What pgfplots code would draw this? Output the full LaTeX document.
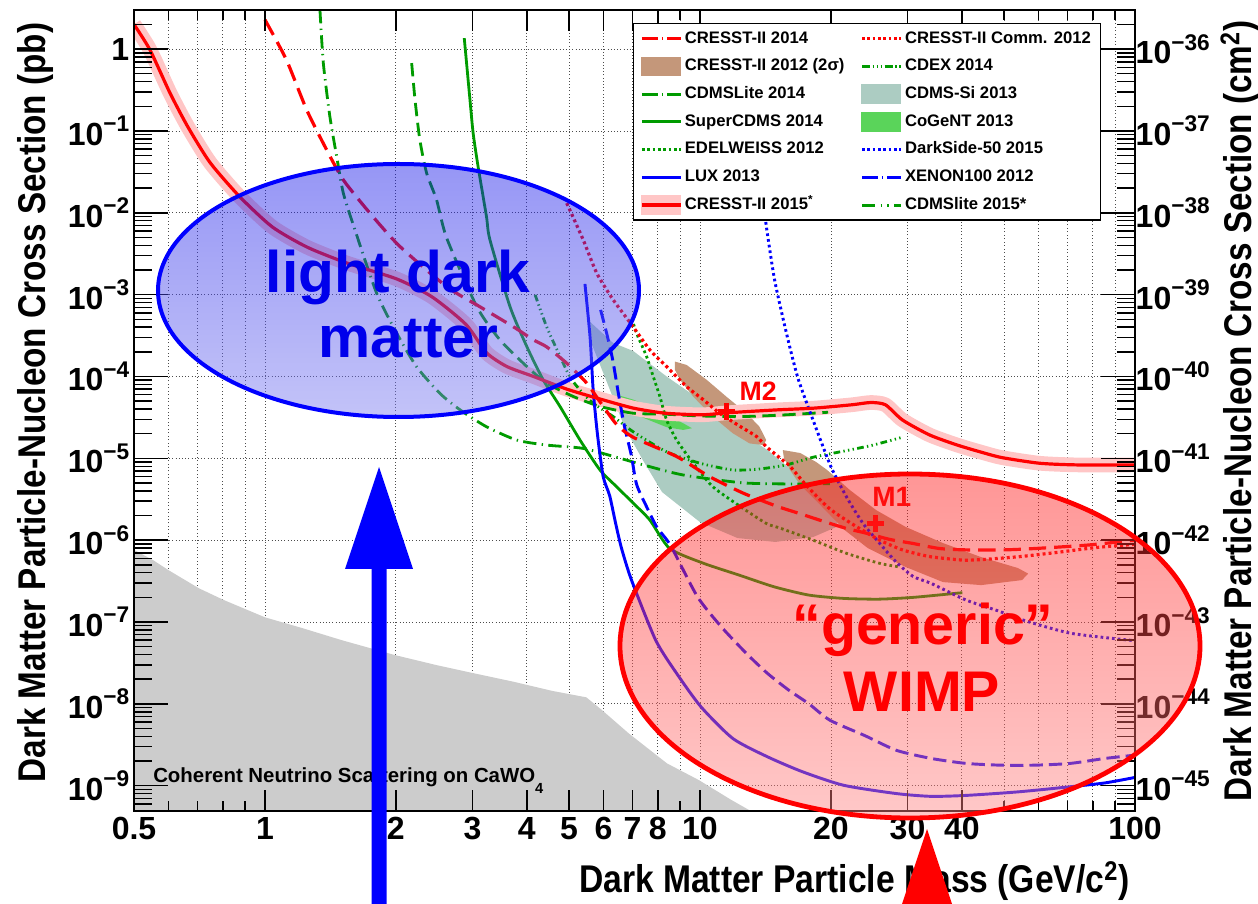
\documentclass[border=0pt]{standalone}
\usepackage{fontspec}
\setmainfont{Liberation Sans}
\usepackage{pgfplots}
\pgfplotsset{compat=1.18}

\definecolor{rred}{RGB}{255,0,0}
\definecolor{rgreen}{RGB}{0,155,0}
\definecolor{rblue}{RGB}{0,0,255}
\definecolor{brownfill}{RGB}{196,151,122}
\definecolor{tealfill}{RGB}{172,204,194}
\definecolor{cogentfill}{RGB}{90,212,90}
\definecolor{pinkband}{RGB}{255,198,198}
\definecolor{cnsgray}{RGB}{204,204,204}
\definecolor{bTop}{RGB}{22,22,233}
\definecolor{bBot}{RGB}{122,122,240}
\definecolor{rTop}{RGB}{255,22,22}
\definecolor{rBot}{RGB}{255,133,133}
\definecolor{textblue}{RGB}{0,0,235}

\newcommand{\tp}[1]{10\raisebox{0.42em}{\fontsize{17}{17}\selectfont −#1}}
\newcommand{\tickfont}{\fontsize{24}{24}\selectfont\bfseries}
\newcommand{\titlefont}{\fontsize{29}{31}\selectfont\bfseries}
\newcommand{\ttl}[1]{\scalebox{0.86}[1]{#1}}

\pgfplotsset{
  legline/.style={legend image code/.code={\draw[#1] (0pt,0pt) -- (29pt,0pt);}},
  legarea/.style={legend image code/.code={\fill[#1] (0pt,-6.75pt) rectangle (29pt,6.75pt);}},
}

\begin{document}
\begin{tikzpicture}
% ---------------- data axis ----------------
\begin{axis}[scale only axis, width=750.75pt, height=600.75pt,
  xmode=log, ymode=log, xmin=0.5, xmax=100, at={(0pt,0pt)}, anchor=south west,
  axis line style={line width=1.5pt},
  ymin=4.9e-10, ymax=3.0,
  xtick={0.5,1,2,3,4,5,6,7,8,10,20,30,40,100},
  xticklabels={0.5,1,2,3,4,5,6,7,8,10,20,30,40,100},
  minor xtick={0.6,0.7,0.8,0.9,9,50,60,70,80,90},
  ytick={1e-9,1e-8,1e-7,1e-6,1e-5,1e-4,1e-3,1e-2,1e-1,1},
  yticklabels={\tp{9},\tp{8},\tp{7},\tp{6},\tp{5},\tp{4},\tp{3},\tp{2},\tp{1},1},
  xmajorgrids, xminorgrids, ymajorgrids,
  grid style={black!70, dotted, line width=0.6pt},
  minor grid style={black!70, dotted, line width=0.6pt},
  major tick length=0pt, minor tick length=0pt,
  ticklabel style={font=\tickfont},
  xticklabel style={yshift=-1pt},
  xlabel={\scalebox{0.87}[1]{Dark Matter Particle Mass (GeV/c\textsuperscript{2})}},
  ylabel={\ttl{Dark Matter Particle-Nucleon Cross Section (pb)}},
  xlabel style={font=\titlefont, at={(axis description cs:0.999,-0.087)}, anchor=east},
  ylabel style={font=\titlefont, at={(axis description cs:-0.098,0.51)}, anchor=center},
]
% Coherent neutrino scattering
\addplot[fill=cnsgray, draw=none] coordinates {
 (0.5,7.6e-7) (0.553,5.7e-7) (0.6,4.3e-7) (0.705,2.58e-7) (0.805,1.85e-7) (1,1.14e-7)
 (1.22,8.4e-8) (1.5,6.0e-8) (1.99,3.94e-8) (2.48,2.97e-8) (2.99,2.39e-8) (3.73,1.86e-8)
 (4.57,1.44e-8) (5.48,1.2e-8) (5.95,8.4e-9) (6.86,4.35e-9) (8.4,1.87e-9) (9.94,1.17e-9)
 (11.8,6.7e-10) (13.0,5.0e-10) (13.5,4.0e-10) (0.5,4.0e-10)};
% CDMS-Si 2013
\addplot[fill=tealfill, draw=none] coordinates {
 (5.59,4.64e-4) (6.31,2.57e-4) (7.02,2.05e-4) (8.4,9.9e-5) (10,5.2e-5) (11.9,2.41e-5)
 (14.3,1.26e-5) (17.0,5.9e-6) (19.6,3.1e-6) (20.9,2.08e-6) (20.6,1.45e-6) (18.2,1.09e-6)
 (14.9,9.5e-7) (12.2,1.06e-6) (10,1.66e-6) (8.18,3.87e-6) (7.39,9.5e-6) (6.72,2.35e-5)
 (6.08,9.1e-5) (5.65,2.43e-4)};
% CoGeNT 2013
\addplot[fill=cogentfill, draw=none] coordinates {
 (6.49,5.9e-5) (7.03,5.2e-5) (7.67,4.3e-5) (8.38,3.39e-5) (9.15,2.68e-5) (9.58,2.33e-5)
 (9.15,2.22e-5) (8.38,2.4e-5) (7.67,2.9e-5) (7.03,3.5e-5) (6.49,4.7e-5)};
% CRESST-II 2012 (M2 and M1)
\addplot[fill=brownfill, draw=none] coordinates {
 (8.76,1.52e-4) (9.32,1.38e-4) (10.36,9.1e-5) (11.5,5.66e-5) (12.8,3.55e-5) (13.7,2.43e-5)
 (14.2,1.67e-5) (14.0,1.45e-5) (13.0,1.52e-5) (11.9,2.02e-5) (10.7,3.23e-5) (9.65,5.66e-5)
 (9.0,9.1e-5) (8.76,1.2e-4)};
\addplot[fill=brownfill, draw=none] coordinates {
 (15.5,1.26e-5) (17.0,1.16e-5) (18.5,9.0e-6) (19.6,7.2e-6) (22.1,4.1e-6) (25.4,2.33e-6)
 (29.7,1.45e-6) (36.2,9.2e-7) (44.3,6.2e-7) (53.8,4.56e-7) (56.8,3.9e-7) (55.0,3.25e-7)
 (44.3,2.82e-7) (36.2,3.07e-7) (29.7,4.7e-7) (24.3,8.0e-7) (21.5,1.33e-6) (18.9,2.69e-6)
 (17.0,4.72e-6) (16.1,7.2e-6) (15.6,1.0e-5)};
% CRESST-II 2015 band
\addplot[pinkband, line width=11pt, line join=round, smooth, tension=0.4] coordinates {
 (0.5,2.0) (0.544,0.98) (0.605,0.29) (0.665,0.112) (0.748,0.041) (0.876,0.0156) (1.04,6.7e-3)
 (1.25,3.8e-3) (1.54,2.44e-3) (2.01,1.55e-3) (2.42,9.4e-4) (2.9,4.3e-4) (3.23,1.95e-4)
 (3.6,1.32e-4) (4.14,1.0e-4) (4.94,7.0e-5) (5.89,5.3e-5) (7.03,4.1e-5) (8.3,3.56e-5)
 (10.1,3.4e-5) (11.6,3.6e-5) (15,3.9e-5) (18.3,4.1e-5) (22.3,4.5e-5) (24.7,4.8e-5)
 (26.7,4.5e-5) (29.2,2.94e-5) (33.7,1.93e-5) (38.9,1.46e-5) (44,1.2e-5) (49.4,1.02e-5)
 (60.3,8.7e-6) (73.5,8.3e-6) (100,8.3e-6)};
% CDMSlite 2015*
\addplot[rgreen, line width=2.1pt, dash pattern=on 10pt off 4pt on 1pt off 4pt, smooth, tension=0.4] coordinates {
 (1.338,3.0) (1.362,0.674) (1.41,0.15) (1.462,0.0486) (1.514,0.0174) (1.61,6.2e-3)
 (1.806,1.04e-3) (2.009,3.37e-4) (2.23,1.32e-4) (2.525,6.2e-5) (2.81,3.9e-5) (3.23,2.43e-5)
 (3.79,1.67e-5) (4.44,1.45e-5) (5.39,1.32e-5) (6.55,1.0e-5) (7.41,8.3e-6) (9.15,6.25e-6)
 (12.6,5.0e-6) (17.0,4.85e-6) (19.9,4.9e-6)};
% CDEX 2014
\addplot[rgreen, line width=2.1pt, dash pattern=on 5pt off 2.5pt on 1pt off 2.5pt on 1pt off 2.5pt on 1pt off 2.5pt, smooth, tension=0.4] coordinates {
 (4.18,9.9e-4) (4.44,4.06e-4) (4.77,1.75e-4) (5.02,9.95e-5) (5.3,6.8e-5) (5.68,4.7e-5)
 (6.32,3.23e-5) (7.03,2.1e-5) (8.38,1.2e-5) (10.0,8.7e-6) (11.9,7.2e-6) (13.7,7.4e-6)
 (15.8,8.3e-6) (18.2,1.03e-5) (21.7,1.24e-5) (25.0,1.45e-5) (29.1,1.8e-5)};
% EDELWEISS 2012
\addplot[rgreen, line width=2.1pt, dash pattern=on 2pt off 2.3pt, smooth, tension=0.4] coordinates {
 (6.97,5.1e-4) (7.15,3.37e-4) (7.54,1.75e-4) (7.81,9.95e-5) (8.09,5.66e-5) (8.38,2.94e-5)
 (8.84,1.67e-5) (9.65,8.7e-6) (10.7,4.5e-6) (12.4,2.56e-6) (14.2,1.6e-6) (15.3,1.4e-6)
 (18.2,1.0e-6) (21.7,6.9e-7) (25.9,5.2e-7) (28.8,4.7e-7)};
% CDMSLite 2014
\addplot[rgreen, line width=2.1pt, dash pattern=on 10pt off 5pt, smooth, tension=0.4] coordinates {
 (2.174,0.674) (2.213,0.24) (2.27,0.0778) (2.353,0.0305) (2.48,0.0144) (2.617,4.9e-3)
 (3.07,7.1e-4) (3.47,2.79e-4) (4.0,1.32e-4) (4.44,8.3e-5) (5.11,5.7e-5) (5.89,4.3e-5)
 (7.03,3.55e-5) (8.38,3.45e-5) (10.0,3.29e-5) (12.4,3.23e-5) (15.5,3.38e-5) (19.7,3.65e-5)};
% SuperCDMS 2014
\addplot[rgreen, line width=2.1pt, smooth, tension=0.4] coordinates {
 (2.872,1.36) (2.96,0.24) (3.01,0.094) (3.09,0.0367) (3.23,9.0e-3) (3.29,4.67e-3)
 (3.66,7.1e-4) (4.0,2.31e-4) (4.36,9.1e-5) (4.77,4.27e-5) (5.3,1.67e-5) (5.89,7.2e-6)
 (6.43,4.5e-6) (7.03,2.82e-6) (7.67,1.76e-6) (8.52,7.9e-7) (10.2,5.2e-7) (12.3,3.74e-7)
 (14.8,2.69e-7) (17.8,2.13e-7) (21.4,1.94e-7) (25.8,1.9e-7) (31.0,2.0e-7) (40.1,2.28e-7)};
% LUX 2013
\addplot[rblue, line width=2.2pt, smooth, tension=0.4] coordinates {
 (5.44,1.35e-3) (5.59,3.0e-4) (5.68,7e-5) (5.81,2.0e-5) (5.99,6e-6) (6.2,3.5e-6)
 (6.4,1.6e-6) (6.6,8e-7) (6.96,3.25e-7) (7.91,6.0e-8) (8.84,2.35e-8) (10.05,9.2e-9)
 (11.9,3.77e-9) (14.3,2.25e-9) (17.2,1.48e-9) (21.4,1.01e-9) (28.3,8.0e-10) (34,7.4e-10)
 (40.9,7.6e-10) (53.9,8.4e-10) (71,9.7e-10) (85.3,1.08e-9) (100,1.26e-9)};
% XENON100 2012
\addplot[rblue, line width=2.2pt, dash pattern=on 10pt off 4.5pt, smooth, tension=0.4] coordinates {
 (5.91,6.5e-4) (6.1,3.4e-4) (6.3,1.6e-4) (6.5,6e-5) (6.7,2.5e-5) (6.95,1.1e-5)
 (7.15,4.8e-6) (7.54,2.56e-6) (7.95,1.46e-6) (8.4,1.0e-6) (8.67,7.6e-7) (9.87,2.03e-7)
 (11.2,8.7e-8) (12.8,4.1e-8) (14.3,2.35e-8) (16,1.47e-8) (17.8,1.0e-8) (19.9,6.3e-9)
 (23.9,4.1e-9) (28.3,2.7e-9) (34,2.15e-9) (40.9,1.87e-9) (49.1,1.78e-9) (59,1.78e-9)
 (71,1.87e-9) (85.3,2.15e-9) (100,2.36e-9)};
% DarkSide-50 2015
\addplot[rblue, line width=2.2pt, dash pattern=on 2pt off 2.3pt, smooth, tension=0.4] coordinates {
 (13.4,0.1) (13.7,0.033) (14.2,7e-3) (14.85,1.5e-3) (15.8,3.4e-4) (16.8,9.5e-5)
 (18.3,2.7e-5) (20.0,7.9e-6) (21.7,3.4e-6) (23.7,1.6e-6) (25.9,9.1e-7) (28.2,5.45e-7)
 (30.9,3.6e-7) (34,2.96e-7) (40.9,1.85e-7) (48.8,1.35e-7) (53.9,1.1e-7) (71,7.3e-8) (100,5.9e-8)};
% CRESST-II 2014
\addplot[rred, line width=2.4pt, dash pattern=on 13pt off 6pt, smooth, tension=0.4] coordinates {
 (1,2.28) (1.12,0.74) (1.247,0.181) (1.386,0.0588) (1.514,0.0252) (1.743,9.9e-3)
 (2.04,3.9e-3) (2.617,1.25e-3) (3.12,7.1e-4) (3.72,4.06e-4) (4.14,2.8e-4) (4.44,2.3e-4)
 (4.94,1.45e-4) (5.49,8.3e-5) (5.89,4.9e-5) (6.43,2.6e-5) (7.03,1.8e-5) (8.84,1.05e-5)
 (10.5,6.0e-6) (12.6,3.73e-6) (15.0,2.6e-6) (17,2.1e-6) (19.2,1.7e-6) (21.7,1.39e-6)
 (24.2,1.21e-6) (27.3,1.02e-6) (30.9,9.1e-7) (35.5,7.9e-7) (40.9,7.6e-7) (50,7.6e-7)
 (58.9,7.9e-7) (77.9,8.7e-7) (100,1.0e-6)};
% CRESST-II Comm. 2012
\addplot[rred, line width=2.4pt, dash pattern=on 2.2pt off 2.3pt, smooth, tension=0.4] coordinates {
 (4.94,0.0131) (5.39,4.67e-3) (5.79,1.83e-3) (6.32,8.6e-4) (6.97,4.26e-4) (7.67,2.11e-4)
 (8.38,1.32e-4) (9.32,7.5e-5) (10.2,5.15e-5) (11.1,3.55e-5) (12.4,2.43e-5) (13.5,1.84e-5)
 (14.2,1.39e-5) (15.3,1.0e-5) (16.1,8.0e-6) (17.6,4.6e-6) (19.9,2.4e-6) (22.9,1.46e-6)
 (25.9,1.0e-6) (29.2,7.6e-7) (33.7,6.3e-7) (40.2,5.7e-7) (44.8,5.8e-7) (54.6,6.3e-7)
 (66.5,7.1e-7) (81.1,8.1e-7) (100,8.9e-7)};
% CRESST-II 2015
\addplot[rred, line width=2.4pt, smooth, tension=0.4] coordinates {
 (0.5,2.0) (0.544,0.98) (0.605,0.29) (0.665,0.112) (0.748,0.041) (0.876,0.0156) (1.04,6.7e-3)
 (1.25,3.8e-3) (1.54,2.44e-3) (2.01,1.55e-3) (2.42,9.4e-4) (2.9,4.3e-4) (3.23,1.95e-4)
 (3.6,1.32e-4) (4.14,1.0e-4) (4.94,7.0e-5) (5.89,5.3e-5) (7.03,4.1e-5) (8.3,3.56e-5)
 (10.1,3.4e-5) (11.6,3.6e-5) (15,3.9e-5) (18.3,4.1e-5) (22.3,4.5e-5) (24.7,4.8e-5)
 (26.7,4.5e-5) (29.2,2.94e-5) (33.7,1.93e-5) (38.9,1.46e-5) (44,1.2e-5) (49.4,1.02e-5)
 (60.3,8.7e-6) (73.5,8.3e-6) (100,8.3e-6)};
% benchmark points M1, M2
\addplot[only marks, mark=+, mark size=6.5pt, rred, mark options={line width=3.6pt}] coordinates {(11.5,3.7e-5) (25.3,1.6e-6)};
\node[text=rred, font=\fontsize{20}{20}\selectfont\bfseries] at (axis cs:13.6,6.65e-5) {M2};
\node[text=rred, font=\fontsize{21}{21}\selectfont\bfseries] at (axis cs:27.6,3.37e-6) {M1};
\end{axis}

% ---------------- x ticks ----------------
\begin{axis}[scale only axis, width=750.75pt, height=600.75pt,
  xmode=log, ymode=log, xmin=0.5, xmax=100, at={(0pt,0pt)}, anchor=south west,
  axis line style={line width=1.5pt},
  ymin=4.9e-10, ymax=3.0, ytick=\empty,
  xtick={0.5,1,2,3,4,5,6,7,8,10,20,30,40,100},
  minor xtick={0.6,0.7,0.8,0.9,9,50,60,70,80,90},
  xticklabels={}, xtick pos=both,
  major tick length=15.5pt, minor tick length=7.5pt,
  tick style={black, line width=1.1pt}]
\end{axis}

% ---------------- y ticks, right scale, legend ----------------
\begin{axis}[scale only axis, width=750.75pt, height=600.75pt,
  xmode=log, ymode=log, xmin=0.5, xmax=100, at={(0pt,0pt)}, anchor=south west,
  axis line style={line width=1.5pt},
  ymin=4.9e-46, ymax=3.0e-36, xtick=\empty,
  ytick={1e-45,1e-44,1e-43,1e-42,1e-41,1e-40,1e-39,1e-38,1e-37,1e-36},
  yticklabels={\tp{45},\tp{44},\tp{43},\tp{42},\tp{41},\tp{40},\tp{39},\tp{38},\tp{37},\tp{36}},
  minor ytick={5e-46,6e-46,7e-46,8e-46,9e-46,
   2e-45,3e-45,4e-45,5e-45,6e-45,7e-45,8e-45,9e-45,
   2e-44,3e-44,4e-44,5e-44,6e-44,7e-44,8e-44,9e-44,
   2e-43,3e-43,4e-43,5e-43,6e-43,7e-43,8e-43,9e-43,
   2e-42,3e-42,4e-42,5e-42,6e-42,7e-42,8e-42,9e-42,
   2e-41,3e-41,4e-41,5e-41,6e-41,7e-41,8e-41,9e-41,
   2e-40,3e-40,4e-40,5e-40,6e-40,7e-40,8e-40,9e-40,
   2e-39,3e-39,4e-39,5e-39,6e-39,7e-39,8e-39,9e-39,
   2e-38,3e-38,4e-38,5e-38,6e-38,7e-38,8e-38,9e-38,
   2e-37,3e-37,4e-37,5e-37,6e-37,7e-37,8e-37,9e-37,
   2e-36},
  ytick pos=both, yticklabel pos=right,
  major tick length=25.5pt, minor tick length=13.5pt,
  tick style={black, line width=1.1pt},
  yticklabel style={font=\tickfont, xshift=-3pt},
  legend columns=2, legend cell align=left,
  legend style={at={(0.4985,0.9838)}, anchor=north west, draw=black, line width=1pt, fill=white,
    font=\fontsize{12.5}{15}\selectfont\bfseries, inner xsep=5pt, inner ysep=3pt, row sep=4.3pt,
    nodes={inner sep=2pt, text height=9.5pt, text depth=3pt},
    /tikz/every even column/.append style={column sep=10pt}},
]
\addlegendimage{legline={rred, line width=2.4pt, dash pattern=on 12pt off 3pt on 1pt off 3pt}}
\addlegendentry{CRESST-II 2014}
\addlegendimage{legline={rred, line width=2.4pt, dash pattern=on 2pt off 2pt}}
\addlegendentry{CRESST-II Comm. 2012}
\addlegendimage{legarea={brownfill}}
\addlegendentry{CRESST-II 2012 (2σ)}
\addlegendimage{legline={rgreen, line width=2.2pt, dash pattern=on 6pt off 2pt on 1pt off 2pt on 1pt off 2pt on 1pt off 2pt}}
\addlegendentry{CDEX 2014}
\addlegendimage{legline={rgreen, line width=2.2pt, dash pattern=on 12pt off 3pt on 1pt off 3pt}}
\addlegendentry{CDMSLite 2014}
\addlegendimage{legarea={tealfill}}
\addlegendentry{CDMS-Si 2013}
\addlegendimage{legline={rgreen, line width=2.2pt}}
\addlegendentry{SuperCDMS 2014}
\addlegendimage{legarea={cogentfill}}
\addlegendentry{CoGeNT 2013}
\addlegendimage{legline={rgreen, line width=2.2pt, dash pattern=on 2pt off 2pt}}
\addlegendentry{EDELWEISS 2012}
\addlegendimage{legline={rblue, line width=2.2pt, dash pattern=on 2pt off 2pt}}
\addlegendentry{DarkSide-50 2015}
\addlegendimage{legline={rblue, line width=2.2pt}}
\addlegendentry{LUX 2013}
\addlegendimage{legline={rblue, line width=2.2pt, dash pattern=on 12pt off 3pt on 1pt off 3pt}}
\addlegendentry{XENON100 2012}
\addlegendimage{legend image code/.code={\fill[pinkband] (0pt,-6.75pt) rectangle (29pt,6.75pt); \draw[rred, line width=2.4pt] (0pt,0pt) -- (29pt,0pt);}}
\addlegendentry{CRESST-II 2015\textsuperscript{*}}
\addlegendimage{legline={rgreen, line width=2.2pt, dash pattern=on 10pt off 4pt on 1pt off 4pt on 1pt off 4pt}}
\addlegendentry{CDMSlite 2015*}
\end{axis}

% ---------------- annotations ----------------
\begin{scope}[shift={(-100.5pt,608.25pt)}, x=0.75pt, y=-0.75pt]
\node[anchor=base west, inner sep=0pt, font=\fontsize{15.3}{16}\selectfont\bfseries] at (153,782)
  {Coherent Neutrino Scattering on CaWO\raisebox{-0.55em}{\fontsize{11}{11}\selectfont 4}};
\node[rotate=90, font=\titlefont] at (1240,411) {\ttl{Dark Matter Particle-Nucleon Cross Section (cm\textsuperscript{2})}};
\shade[top color=bTop, bottom color=bBot, fill opacity=0.45] (398.5,290.5) ellipse [x radius=240.5, y radius=126.5];
\draw[rblue, line width=3pt] (398.5,290.5) ellipse [x radius=240.5, y radius=126.5];
\shade[top color=rTop, bottom color=rBot, fill opacity=0.45] (910,646) ellipse [x radius=290, y radius=172];
\draw[rred, line width=3.6pt] (910,646) ellipse [x radius=290, y radius=172];
\node[anchor=base, text=textblue, inner sep=0pt, font=\fontsize{44}{44}\selectfont\bfseries] at (398,293) {light dark};
\node[anchor=base, text=textblue, inner sep=0pt, font=\fontsize{44}{44}\selectfont\bfseries] at (408.5,358) {matter};
\node[anchor=base, text=rred, inner sep=0pt, font=\fontsize{43}{43}\selectfont\bfseries] at (923,645) {“generic”};
\node[anchor=base, text=rred, inner sep=0pt, font=\fontsize{43}{43}\selectfont\bfseries] at (922,712) {WIMP};
\fill[rblue] (371.5,910) -- (371.5,569) -- (345,569) -- (379,467) -- (413,569) -- (386.5,569) -- (386.5,910) -- cycle;
\fill[rred] (927,829) -- (961,931) -- (893,931) -- cycle;
\end{scope}
\pgfresetboundingbox
\path[use as bounding box] (-100.5pt,608.25pt) rectangle ++(943.5pt,-678pt);
\end{tikzpicture}
\end{document}
